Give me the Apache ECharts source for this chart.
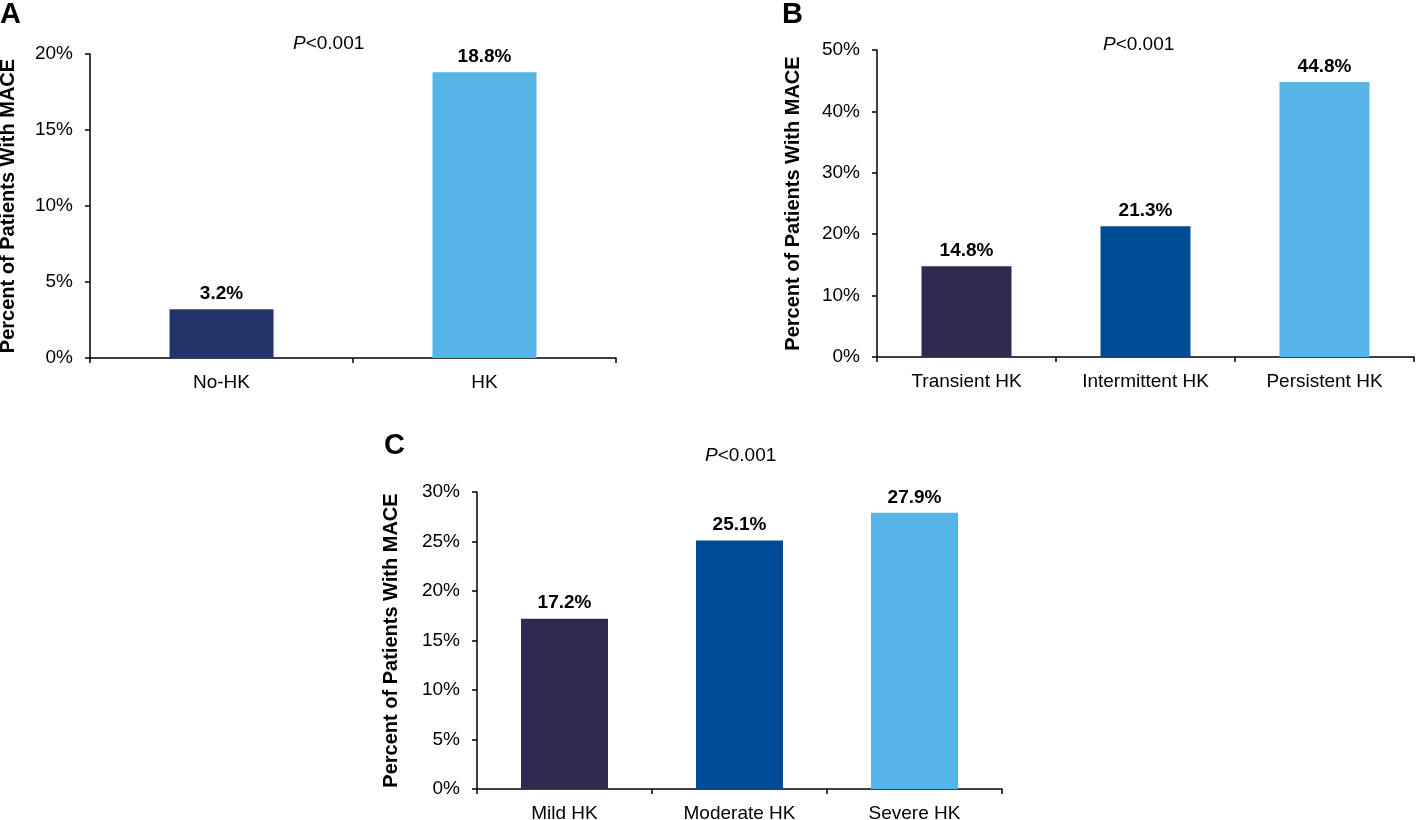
<!DOCTYPE html>
<html><head><meta charset="utf-8">
<script src="https://cdn.jsdelivr.net/npm/echarts@6/dist/echarts.min.js"></script>
<style>html,body{margin:0;padding:0;background:#fff}#c{width:1423px;height:820px}</style>
</head><body><div id="c"></div>
<script>
const catsA = ['No-HK', 'HK'];
const valsA = [3.2, 18.8];
const colorsA = ['#24346B', '#57B5E5'];
const catsB = ['Transient HK', 'Intermittent HK', 'Persistent HK'];
const valsB = [14.8, 21.3, 44.8];
const catsC = ['Mild HK', 'Moderate HK', 'Severe HK'];
const valsC = [17.2, 25.1, 27.9];
const colorsBC = ['#302A50', '#004C94', '#57B5E5'];
const yName = 'Percent of Patients With MACE';
const pText = '{i|P}<0.001';

const FONT = 'Liberation Sans, Arial, sans-serif';
const FS = 19;
const chart = echarts.init(document.getElementById('c'));

function xAxis(i, cats) {
  return {
    type: 'category', gridIndex: i, data: cats,
    axisLine: {lineStyle: {color: '#000', width: 1.5}},
    axisTick: {show: true, length: 5, lineStyle: {color: '#000', width: 1.5}},
    axisLabel: {color: '#000', fontSize: FS, fontFamily: FONT, margin: 15}
  };
}
function yAxis(i, max, interval, gap) {
  return {
    type: 'value', gridIndex: i, min: 0, max: max, interval: interval,
    name: yName, nameLocation: 'middle', nameGap: gap,
    nameTextStyle: {color: '#000', fontSize: 20, fontWeight: 'bold', fontFamily: FONT},
    axisLine: {show: true, lineStyle: {color: '#000', width: 1.5}},
    axisTick: {show: true, length: 5, lineStyle: {color: '#000', width: 1.5}},
    splitLine: {show: false},
    axisLabel: {color: '#000', fontSize: FS, fontFamily: FONT, margin: 17, formatter: '{value}%'}
  };
}
function series(i, vals, colors, barWidth) {
  return {
    type: 'bar', xAxisIndex: i, yAxisIndex: i, barWidth: barWidth,
    data: vals.map((v, k) => ({value: v, itemStyle: {color: colors[k]}})),
    label: {show: true, position: 'top', distance: 6, color: '#000', fontSize: FS,
      fontWeight: 'bold', fontFamily: FONT, formatter: p => p.value.toFixed(1) + '%'}
  };
}
const rich = {i: {fontStyle: 'italic', fontSize: FS, color: '#000', fontFamily: FONT}};
function ptitle(left, top) {
  return {text: pText, left: left, top: top, padding: 0,
    textStyle: {rich: rich, fontSize: FS, fontWeight: 'normal', color: '#000', fontFamily: FONT}};
}
function letter(t, left, top) {
  return {text: t, left: left, top: top, padding: 0,
    textStyle: {fontSize: 29, fontWeight: 'bold', color: '#000', fontFamily: FONT}};
}

chart.setOption({
  animation: false,
  title: [
    letter('A', 0, 0), letter('B', 782, 0), letter('C', 384, 431),
    ptitle(293, 34), ptitle(1103, 35), ptitle(705, 446)
  ],
  grid: [
    {left: 90, top: 54, width: 526, height: 304, outerBoundsMode: 'none', containLabel: false},
    {left: 877, top: 50, width: 537, height: 307, outerBoundsMode: 'none', containLabel: false},
    {left: 477, top: 492, width: 525, height: 297, outerBoundsMode: 'none', containLabel: false}
  ],
  xAxis: [xAxis(0, catsA), xAxis(1, catsB), xAxis(2, catsC)],
  yAxis: [yAxis(0, 20, 5, 72), yAxis(1, 50, 10, 74), yAxis(2, 30, 5, 76)],
  series: [series(0, valsA, colorsA, 104), series(1, valsB, colorsBC, 90), series(2, valsC, colorsBC, 87)]
});
</script></body></html>
